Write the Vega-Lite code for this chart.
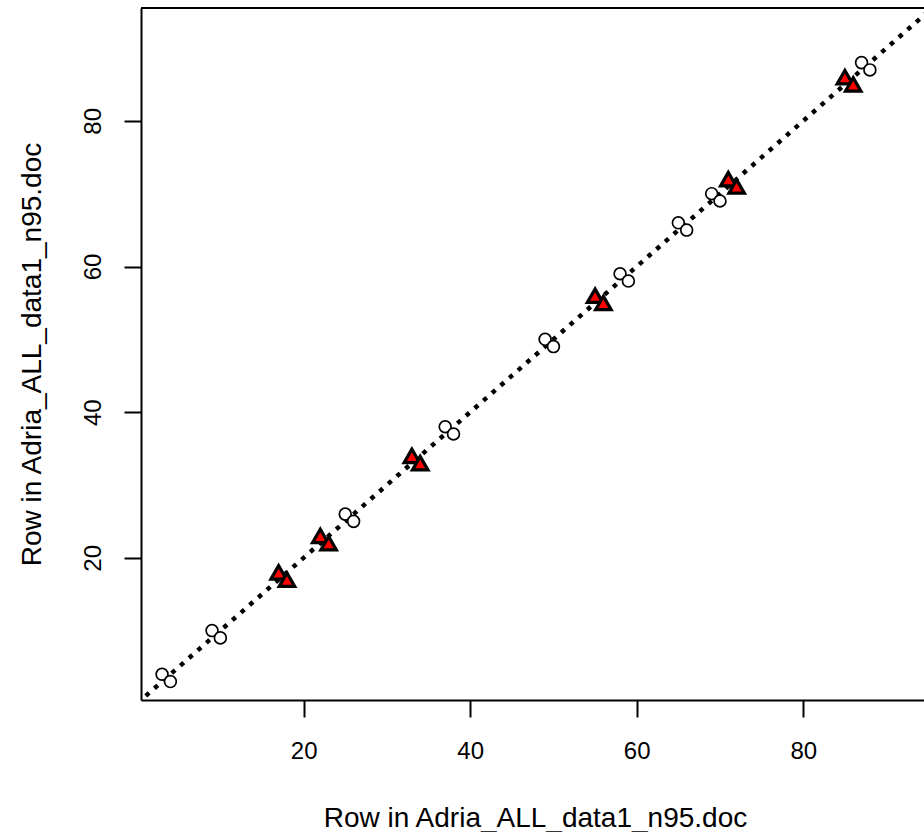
{
  "$schema": "https://vega.github.io/schema/vega-lite/v6.json",
  "width": 783,
  "height": 692,
  "padding": {"left": 141, "top": 8, "right": 0, "bottom": 132},
  "autosize": {"type": "none"},
  "background": "white",
  "config": {
    "view": {"stroke": null},
    "font": "Liberation Sans",
    "axis": {"grid": false, "domainColor": "black", "tickColor": "black", "labelColor": "black", "titleColor": "black", "labelFont": "Liberation Sans", "titleFont": "Liberation Sans", "labelFontWeight": "normal", "titleFontWeight": "normal"}
  },
  "datasets": {
    "diag": [{"a": 0, "b": 0}, {"a": 100, "b": 100}],
    "pts": [
      {"x": 3, "y": 4, "kind": "circle"}, {"x": 4, "y": 3, "kind": "circle"},
      {"x": 9, "y": 10, "kind": "circle"}, {"x": 10, "y": 9, "kind": "circle"},
      {"x": 25, "y": 26, "kind": "circle"}, {"x": 26, "y": 25, "kind": "circle"},
      {"x": 37, "y": 38, "kind": "circle"}, {"x": 38, "y": 37, "kind": "circle"},
      {"x": 49, "y": 50, "kind": "circle"}, {"x": 50, "y": 49, "kind": "circle"},
      {"x": 58, "y": 59, "kind": "circle"}, {"x": 59, "y": 58, "kind": "circle"},
      {"x": 65, "y": 66, "kind": "circle"}, {"x": 66, "y": 65, "kind": "circle"},
      {"x": 69, "y": 70, "kind": "circle"}, {"x": 70, "y": 69, "kind": "circle"},
      {"x": 87, "y": 88, "kind": "circle"}, {"x": 88, "y": 87, "kind": "circle"},
      {"x": 17, "y": 18, "kind": "triangle"}, {"x": 18, "y": 17, "kind": "triangle"},
      {"x": 22, "y": 23, "kind": "triangle"}, {"x": 23, "y": 22, "kind": "triangle"},
      {"x": 33, "y": 34, "kind": "triangle"}, {"x": 34, "y": 33, "kind": "triangle"},
      {"x": 55, "y": 56, "kind": "triangle"}, {"x": 56, "y": 55, "kind": "triangle"},
      {"x": 71, "y": 72, "kind": "triangle"}, {"x": 72, "y": 71, "kind": "triangle"},
      {"x": 85, "y": 86, "kind": "triangle"}, {"x": 86, "y": 85, "kind": "triangle"}
    ]
  },
  "layer": [
    {
      "data": {"name": "diag"},
      "mark": {"type": "line", "clip": true, "color": "black", "strokeWidth": 4.5, "strokeDash": [4.5, 7], "strokeCap": "butt"},
      "encoding": {
        "x": {"field": "a", "type": "quantitative", "scale": {"domain": [0.47, 94.5], "nice": false, "zero": false},
              "axis": {"values": [20, 40, 60, 80], "title": "Row in Adria_ALL_data1_n95.doc", "labelFontSize": 24, "titleFontSize": 28, "tickSize": 17, "tickWidth": 2, "domainWidth": 2, "labelBaseline": "alphabetic", "labelPadding": 41, "titleBaseline": "alphabetic", "titleY": 126, "titleX": 394}},
        "y": {"field": "b", "type": "quantitative", "scale": {"domain": [0.47, 95.5], "nice": false, "zero": false},
              "axis": {"values": [20, 40, 60, 80], "title": "Row in Adria_ALL_data1_n95.doc", "labelFontSize": 24, "titleFontSize": 28, "tickSize": 17, "tickWidth": 2, "domainWidth": 2, "labelAngle": -90, "labelAlign": "center", "labelBaseline": "alphabetic", "labelPadding": 24, "titleBaseline": "alphabetic", "titleX": -101, "titleY": 346, "titleAngle": -90}}
      }
    },
    {
      "data": {"name": "pts"},
      "transform": [{"filter": "datum.kind === 'circle'"}],
      "mark": {"type": "point", "shape": "circle", "filled": true, "fill": "white", "stroke": "black", "strokeWidth": 1.7, "size": 140, "opacity": 1},
      "encoding": {
        "x": {"field": "x", "type": "quantitative"},
        "y": {"field": "y", "type": "quantitative"}
      }
    },
    {
      "data": {"name": "pts"},
      "transform": [{"filter": "datum.kind === 'triangle'"}],
      "mark": {"type": "point", "shape": "triangle-up", "filled": true, "fill": "#ff0000", "stroke": "black", "strokeWidth": 3.2, "size": 240, "opacity": 1, "strokeJoin": "miter"},
      "encoding": {
        "x": {"field": "x", "type": "quantitative"},
        "y": {"field": "y", "type": "quantitative"}
      }
    },
    {
      "data": {"values": [{"t": 1}]},
      "mark": {"type": "rule", "color": "black", "strokeWidth": 2},
      "encoding": {"y": {"value": 0}}
    }
  ]
}
